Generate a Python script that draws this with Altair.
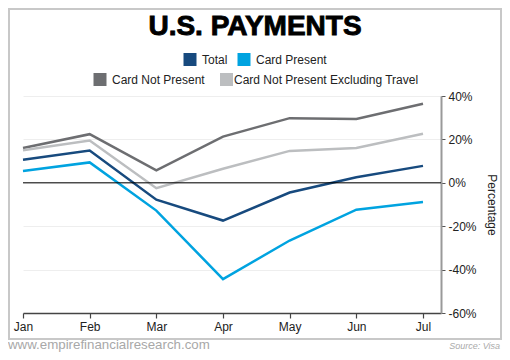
import altair as alt
import pandas as pd

months = ["Jan", "Feb", "Mar", "Apr", "May", "Jun", "Jul"]
series_names = ["Total", "Card Present", "Card Not Present", "Card Not Present Excluding Travel"]
series_colors = ["#174a7e", "#00a3e0", "#6d6e71", "#bcbec0"]

total = [10.6, 14.9, -7.8, -17.4, -4.5, 2.6, 7.8]
card_present = [5.4, 9.4, -12.8, -44.4, -26.6, -12.4, -8.9]
card_not_present = [16.0, 22.4, 5.7, 21.3, 29.8, 29.4, 36.4]
cnp_excl_travel = [15.0, 19.5, -2.5, 6.5, 14.7, 16.0, 22.6]

y_ticks = [-60, -40, -20, 0, 20, 40]

values = [total, card_present, card_not_present, cnp_excl_travel]
rows = []
for name, vals in zip(series_names, values):
    for i, v in enumerate(vals):
        rows.append({"series": name, "m": i, "v": v})
df = pd.DataFrame(rows)

FONT = "Liberation Sans"
label_expr = "[" + ",".join("'%s'" % m for m in months) + "][datum.value]"

color_scale = alt.Scale(domain=series_names, range=series_colors)

lines = alt.Chart(df).mark_line(strokeWidth=2.5).encode(
    x=alt.X("m:Q", scale=alt.Scale(domain=[0, 6.27], nice=False, zero=False),
            axis=alt.Axis(values=list(range(len(months))), labelExpr=label_expr, grid=False,
                          title=None, domainColor="#444", domainWidth=1.5, tickColor="#444",
                          tickSize=5, tickWidth=1.2, labelFont=FONT, labelFontSize=12,
                          labelColor="#222", labelPadding=3, labelFlush=False)),
    y=alt.Y("v:Q", scale=alt.Scale(domain=[-60, 40], nice=False),
            axis=alt.Axis(orient="right", values=y_ticks, format=".0f", labelExpr="datum.value + '%'",
                          grid=True, gridColor="#eeeeee", gridWidth=1,
                          domainColor="#999", domainWidth=2, tickColor="#555", tickSize=4,
                          labelFont=FONT, labelFontSize=12, labelColor="#222", labelPadding=3,
                          labelFlush=False,
                          title="Percentage", titleFont=FONT, titleFontSize=12,
                          titleFontWeight="normal", titleColor="#222", titleAngle=90,
                          titlePadding=8)),
    color=alt.Color("series:N", scale=color_scale, legend=None),
    order=alt.Order("series:N"),
)

zero = alt.Chart(pd.DataFrame({"v": [0]})).mark_rule(color="#000", strokeWidth=1).encode(y="v:Q")

one = alt.Data(values=[{"a": 1}])

def txt(text, x, y, size, color="#222", weight="normal", align="left", baseline="middle",
        style="normal", stroke=None, font=FONT):
    kw = dict(text=text, font=font, fontSize=size, color=color, fontWeight=weight,
              align=align, baseline=baseline, fontStyle=style)
    if stroke:
        kw.update(stroke=color, strokeWidth=stroke)
    return alt.Chart(one).mark_text(**kw).encode(x=alt.value(x), y=alt.value(y))

def sq(color, x, y):
    return alt.Chart(one).mark_square(size=169, color=color, opacity=1).encode(
        x=alt.value(x), y=alt.value(y))

border = alt.Chart(one).mark_rect(fillOpacity=0, stroke="#c8c8c8", strokeWidth=2).encode(
    x=alt.value(-14), x2=alt.value(478), y=alt.value(-87), y2=alt.value(243))

title = txt("U.S. PAYMENTS", 232, -61, 28, color="#000", weight="bold", align="center",
            baseline="alphabetic", stroke=0.9)

legend_layers = [
    sq(series_colors[0], 167, -36.5), txt(series_names[0], 179, -36.5, 12),
    sq(series_colors[1], 221, -36.5), txt(series_names[1], 233, -36.5, 12),
    sq(series_colors[2], 77, -16.5), txt(series_names[2], 89, -16.5, 12),
    sq(series_colors[3], 203.5, -16.5), txt(series_names[3], 211, -16.5, 12),
]

footer = txt("www.empirefinancialresearch.com", -15, 253, 13.3, color="#a8a8a8", baseline="alphabetic")
source = txt("Source: Visa", 477, 253, 9, color="#aaa", align="right", baseline="alphabetic", style="italic")

chart = alt.layer(border, lines, zero, title, *legend_layers, footer, source).properties(
    width=418, height=217,
    autosize=alt.AutoSizeParams(type="none"),
    padding={"left": 15, "top": 88, "right": 61, "bottom": 39},
    background="white",
).configure_view(strokeWidth=0)

chart.save("out.html", embed_options={"renderer": "svg", "actions": False})
